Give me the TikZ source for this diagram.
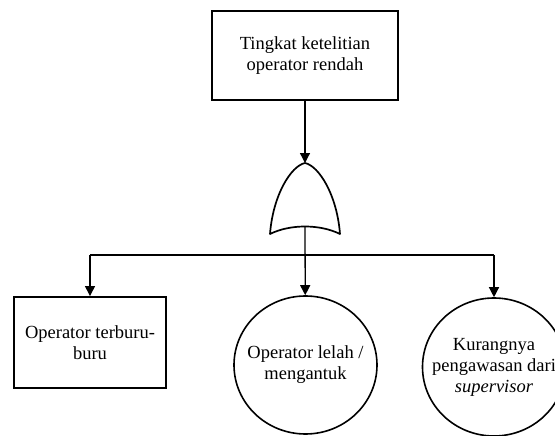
\documentclass[tikz,border=0pt]{standalone}
\usepackage{fontspec}
\setmainfont{Liberation Serif}
\usetikzlibrary{arrows.meta,shapes.geometric}
\begin{document}
\begin{tikzpicture}[x=1pt,y=-1pt,
  every node/.style={font=\fontsize{18.5}{21}\selectfont, align=center, inner sep=0pt},
  eventbox/.style={draw, line width=1.9pt, rectangle},
  basicevent/.style={draw, line width=1.6pt, ellipse, minimum width=143pt, minimum height=138pt},
  link/.style={line width=1.3pt},
  flow/.style={link, -{Triangle[length=10pt,width=10pt]}},
  gateline/.style={line width=1.7pt, line join=round}]
  \useasboundingbox (0,0) rectangle (555,436);
  \clip (0,0) rectangle (555,436);

  % top event
  \node[eventbox, minimum width=186pt, minimum height=89pt] (top) at (305,55.5) {};
  \node (toptext) at (top) {Tingkat ketelitian\\operator rendah};

  % OR gate
  \coordinate (gtop) at (305,163);
  \coordinate (gbot) at (305,227);
  \draw[gateline, fill=white] (gtop) .. controls (319,166) and (337,195) .. (340,234)
    .. controls (320,224) and (290,224) .. (270,234)
    .. controls (273,195) and (291,166) .. (gtop) -- cycle;

  % causes
  \node[eventbox, minimum width=152pt, minimum height=91pt] (c1) at (90,342.5) {};
  \node (c1text) at (c1) {Operator terburu-\\buru};
  \node[basicevent] (c2) at (305.5,365) {};
  \node (c2text) at (c2) {Operator lelah /\\mengantuk};
  \node[basicevent] (c3) at (494,367) {};
  \node (c3text) at (c3) {Kurangnya\\pengawasan dari\\\textit{supervisor}};

  % branch line
  \coordinate (hl) at (90,255);
  \coordinate (hr) at (494,255);

  \draw[flow] (top) -- (gtop);
  \draw[flow] (gbot) -- (c2);
  \draw[link] (hl) -- (hr);
  \draw[flow] (hl) -- (c1.north);
  \draw[flow] (hr) -- (c3.north);
\end{tikzpicture}
\end{document}
